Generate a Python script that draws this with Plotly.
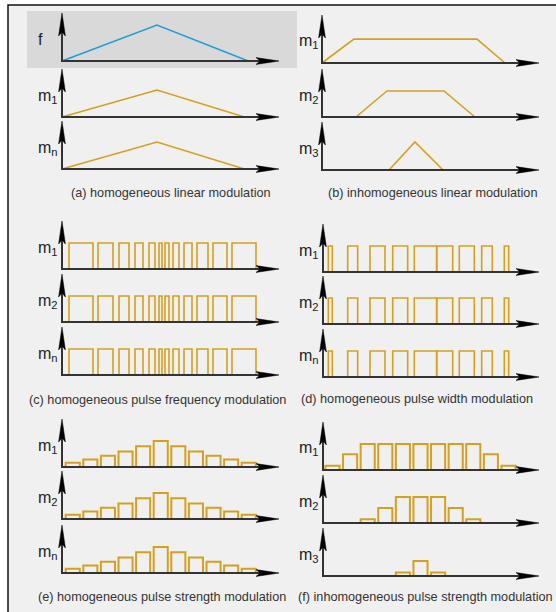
import plotly.graph_objects as go

W, H = 556, 612
GOLD = "#d4a020"
BLUE = "#1f9fd5"
FONT = "Liberation Sans, Arial, sans-serif"

# ---------------- data ----------------
# (a) homogeneous linear modulation
lin_f_t = [0, 5, 9.8]
lin_f_v = [0, 1.38, 0]
lin_m_t = [0, 5, 9.6]
lin_m_v = [0, 1.04, 0]
# (b) inhomogeneous linear modulation
inh_m1_t = [0, 1.68, 8.16, 9.63]
inh_m1_v = [0, 0.92, 0.92, 0]
inh_m2_t = [1.79, 3.42, 6.42, 8.05]
inh_m2_v = [0, 1.0, 1.0, 0]
inh_m3_t = [3.53, 4.89, 6.37]
inh_m3_v = [0, 1.08, 0]
# (c) homogeneous pulse frequency modulation (pulse on / off times)
pfm_on = [0.7, 3.6, 5.7, 7.3, 8.7, 9.7, 10.3, 11.1, 12.2, 13.5, 15.1, 17.0]
pfm_off = [3.1, 5.1, 6.7, 8.1, 9.3, 10.0, 10.7, 11.7, 13.0, 14.6, 16.5, 19.4]
pfm_amp = 1.0
# (d) homogeneous pulse width modulation
pwm_on = [0.53, 2.47, 4.70, 6.97, 9.13, 11.37, 13.63, 15.87, 18.13]
pwm_off = [0.93, 3.47, 6.20, 8.47, 11.37, 12.97, 15.13, 16.93, 18.57]
pwm_amp = 1.0
# (e) homogeneous pulse strength modulation
psm_slots = [1, 2, 3, 4, 5, 6, 7, 8, 9, 10, 11]
psm_homog = [0.16, 0.29, 0.43, 0.60, 0.80, 1.00, 0.80, 0.60, 0.43, 0.29, 0.16]
# (f) inhomogeneous pulse strength modulation
psm_inh_m1 = [0.16, 0.61, 1.0, 1.0, 1.0, 1.0, 1.0, 1.0, 1.0, 0.61, 0.16]
psm_inh_m2 = [None, None, 0.14, 0.58, 1.0, 1.0, 1.0, 0.58, 0.14, None, None]
psm_inh_m3 = [None, None, None, None, 0.13, 0.58, 0.13, None, None, None, None]

captions = [
    "(a) homogeneous linear modulation",
    "(b) inhomogeneous linear modulation",
    "(c) homogeneous pulse frequency modulation",
    "(d) homogeneous pulse width modulation",
    "(e) homogeneous pulse strength modulation",
    "(f) inhomogeneous pulse strength modulation",
]


def pulses(on, off, amp):
    xs, ys = [], []
    for s, e in zip(on, off):
        xs += [s, s, e, e, None]
        ys += [0, amp, amp, 0, None]
    return xs, ys


# ---------------- layout geometry (pixels) ----------------
def px(x):
    return x / W


def py(y):
    return 1 - y / H


PXU_Y = 26.0  # pixels per value unit
panels = [
    dict(ox=62, tip=279, bases=[61, 117, 169], pxu=19.0, x0=0.0, cap=(171, 193), labels=["f", "m<sub>1</sub>", "m<sub>n</sub>"]),
    dict(ox=322, tip=539, bases=[63, 117, 170], pxu=19.0, x0=0.0, cap=(432, 193), labels=["m<sub>1</sub>", "m<sub>2</sub>", "m<sub>3</sub>"]),
    dict(ox=62, tip=279, bases=[269, 322, 375], pxu=10.0, x0=0.0, cap=(157, 400), labels=["m<sub>1</sub>", "m<sub>2</sub>", "m<sub>n</sub>"]),
    dict(ox=323, tip=539, bases=[272, 324, 377], pxu=10.0, x0=0.0, cap=(417, 399), labels=["m<sub>1</sub>", "m<sub>2</sub>", "m<sub>n</sub>"]),
    dict(ox=62, tip=279, bases=[467, 519, 573], pxu=17.6, x0=0.39, cap=(162, 597), labels=["m<sub>1</sub>", "m<sub>2</sub>", "m<sub>n</sub>"]),
    dict(ox=323, tip=539, bases=[470, 523, 576], pxu=17.6, x0=0.46, cap=(425, 597), labels=["m<sub>1</sub>", "m<sub>2</sub>", "m<sub>3</sub>"]),
]

fig = go.Figure()
layout = dict(
    width=W, height=H, margin=dict(l=0, r=0, t=0, b=0),
    paper_bgcolor="white", plot_bgcolor="rgba(0,0,0,0)",
    showlegend=False, barmode="overlay",
)
shapes = []
annotations = []

# frame and highlighted background of f row
shapes.append(dict(type="rect", xref="paper", yref="paper", x0=px(8), x1=px(600), y0=py(5), y1=py(660),
                   fillcolor="#f0f0f0", line=dict(color="#111", width=1.5), layer="below"))
shapes.append(dict(type="rect", xref="paper", yref="paper", x0=px(27), x1=px(297), y0=py(11), y1=py(68),
                   fillcolor="#d9d9d9", line=dict(width=0), layer="below"))

series = {
    0: [("line", lin_f_t, lin_f_v, BLUE), ("line", lin_m_t, lin_m_v, GOLD), ("line", lin_m_t, lin_m_v, GOLD)],
    1: [("line", inh_m1_t, inh_m1_v, GOLD), ("line", inh_m2_t, inh_m2_v, GOLD), ("line", inh_m3_t, inh_m3_v, GOLD)],
    2: [("pulse", pfm_on, pfm_off, pfm_amp)] * 3,
    3: [("pulse", pwm_on, pwm_off, pwm_amp)] * 3,
    4: [("bar", psm_slots, psm_homog, None)] * 3,
    5: [("bar", psm_slots, psm_inh_m1, None), ("bar", psm_slots, psm_inh_m2, None), ("bar", psm_slots, psm_inh_m3, None)],
}

k = 0
for pi, p in enumerate(panels):
    ox, tip, pxu, x0v = p["ox"], p["tip"], p["pxu"], p["x0"]
    for ri, base in enumerate(p["bases"]):
        k += 1
        xa = "xaxis" if k == 1 else f"xaxis{k}"
        ya = "yaxis" if k == 1 else f"yaxis{k}"
        xr = "x" if k == 1 else f"x{k}"
        yr = "y" if k == 1 else f"y{k}"
        pad = 6
        layout[xa] = dict(domain=[px(ox - pad), px(tip)], range=[x0v - pad / pxu, x0v + (tip - ox) / pxu],
                          visible=False, fixedrange=True, anchor=yr)
        layout[ya] = dict(domain=[py(base + pad), py(base - 48)], range=[-pad / PXU_Y, 48 / PXU_Y],
                          visible=False, fixedrange=True, anchor=xr)
        kind, a, b, c = series[pi][ri]
        if kind == "line":
            fig.add_trace(go.Scatter(x=a, y=b, mode="lines", line=dict(color=c, width=1.6),
                                     xaxis=xr, yaxis=yr, hoverinfo="skip"))
        elif kind == "pulse":
            xs, ys = pulses(a, b, c)
            fig.add_trace(go.Scatter(x=xs, y=ys, mode="lines", line=dict(color=GOLD, width=1.6),
                                     xaxis=xr, yaxis=yr, hoverinfo="skip", connectgaps=False))
        else:
            fig.add_trace(go.Bar(x=a, y=b, width=0.8, marker=dict(color="rgba(0,0,0,0)",
                                 line=dict(color=GOLD, width=2)), xaxis=xr, yaxis=yr, hoverinfo="skip"))
        # axes with arrows
        shapes.append(dict(type="line", xref="paper", yref="paper", x0=px(ox), x1=px(tip - 12),
                           y0=py(base), y1=py(base), line=dict(color="#333", width=2)))
        shapes.append(dict(type="line", xref="paper", yref="paper", x0=px(ox), x1=px(ox),
                           y0=py(base + 1), y1=py(base - 38), line=dict(color="#333", width=2)))
        hpath = (f"M {px(tip)},{py(base)} L {px(tip - 23)},{py(base - 3.4)} "
                 f"L {px(tip - 19)},{py(base)} L {px(tip - 23)},{py(base + 3.4)} Z")
        vt = base - 48
        vpath = (f"M {px(ox)},{py(vt)} L {px(ox - 3.4)},{py(vt + 23)} "
                 f"L {px(ox)},{py(vt + 19)} L {px(ox + 3.4)},{py(vt + 23)} Z")
        for pth in (hpath, vpath):
            shapes.append(dict(type="path", xref="paper", yref="paper", path=pth,
                               fillcolor="black", line=dict(color="black", width=0.5)))
        lx = 36 if ox < 200 else 297
        annotations.append(dict(xref="paper", yref="paper", x=px(lx), y=py(base - 21), xanchor="left",
                                yanchor="middle", text=p["labels"][ri], showarrow=False,
                                font=dict(family=FONT, size=16, color="#222")))
    annotations.append(dict(xref="paper", yref="paper", x=px(p["cap"][0]), y=py(p["cap"][1]),
                            xanchor="center", yanchor="middle", text=captions[pi], showarrow=False,
                            font=dict(family=FONT, size=12.7, color="#333")))

layout["shapes"] = shapes
layout["annotations"] = annotations
fig.update_layout(**layout)
fig.write_html("out.html", config={"displayModeBar": False},
               post_script="document.body.style.margin='0';document.body.style.padding='0';")
